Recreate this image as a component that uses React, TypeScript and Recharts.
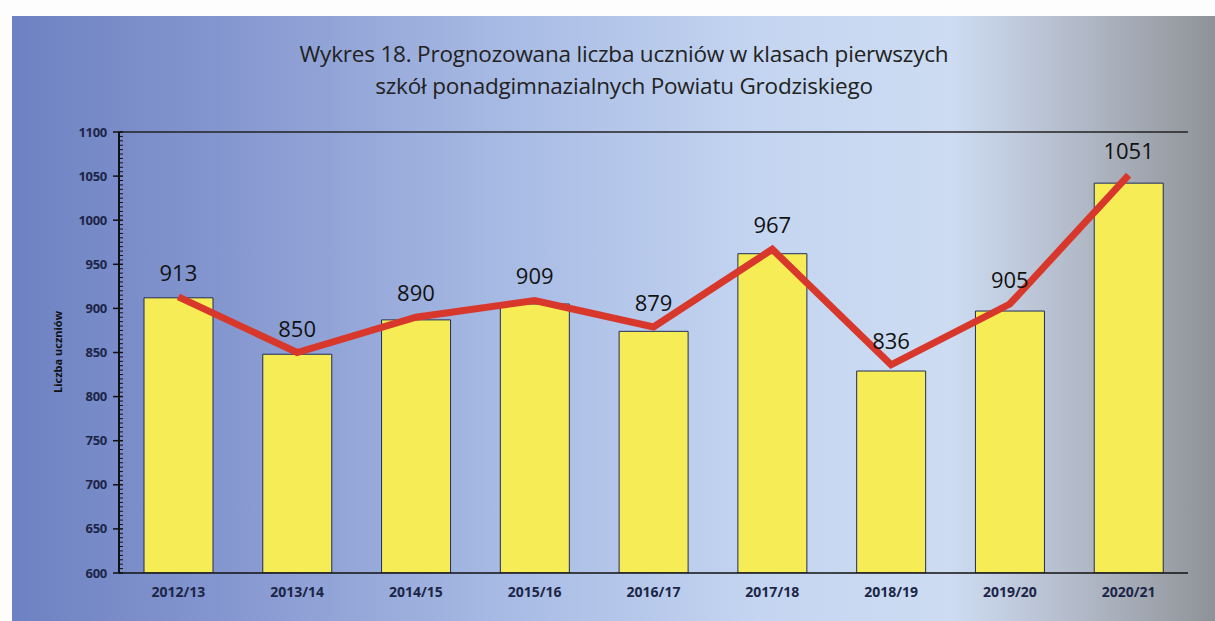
import React from 'react'
import {
  ComposedChart,
  Bar,
  Line,
  XAxis,
  YAxis,
  CartesianGrid,
  LabelList,
  ReferenceLine,
} from 'recharts'

// Chart data
const YEARS = ['2012/13', '2013/14', '2014/15', '2015/16', '2016/17', '2017/18', '2018/19', '2019/20', '2020/21']
const BAR_VALUES = [912, 848, 887, 905, 874, 962, 829, 897, 1042]
const LINE_VALUES = [913, 850, 890, 909, 879, 967, 836, 905, 1051]
const MAJOR_TICKS = [600, 650, 700, 750, 800, 850, 900, 950, 1000, 1050, 1100]

const data = YEARS.map((year, i) => ({
  year,
  bar: BAR_VALUES[i],
  line: LINE_VALUES[i],
}))

// minor tick marks every 5 units
const ALL_TICKS: number[] = []
for (let v = 600; v <= 1100; v += 5) ALL_TICKS.push(v)

const W = 1215
const H = 621

const AXIS_TEXT = '#1c2547'

function YTick(props: any) {
  const { x, y, payload } = props
  const v = payload.value
  const major = v % 50 === 0
  if (!major) {
    return <line x1={x} x2={x + 4} y1={y} y2={y} stroke="#111" strokeWidth={1} />
  }
  return (
    <g>
      <line x1={x - 6} x2={x + 4} y1={y} y2={y} stroke="#111" strokeWidth={1.5} />
      <text
        x={x - 12}
        y={y}
        dy={4.5}
        textAnchor="end"
        fontSize={13}
        fontWeight="bold"
        fill={AXIS_TEXT}
        fontFamily="'Open Sans', sans-serif"
        letterSpacing={-0.3}
      >
        {v}
      </text>
    </g>
  )
}

export default function App() {
  return (
    <div
      style={{
        position: 'fixed',
        left: 0,
        top: 0,
        width: W,
        height: H,
        background: '#fdfdfd',
        overflow: 'hidden',
      }}
    >
      <div
        style={{
          position: 'absolute',
          left: 12,
          top: 16,
          width: W - 12,
          height: H - 16,
          background:
            'linear-gradient(90deg, #6e82c3 0%, #8597cf 18%, #a6b9e3 40%, #c4d5f1 62%, #cddcf2 78%, #b4bccb 88%, #8f9398 100%)',
        }}
      />
      <div
        style={{
          position: 'absolute',
          left: 0,
          top: 38,
          width: 1248,
          textAlign: 'center',
          fontFamily: "'Open Sans', sans-serif",
          fontSize: 22.5,
          lineHeight: '32px',
          color: '#222',
          letterSpacing: -0.2,
        }}
      >
        Wykres 18. Prognozowana liczba uczniów w klasach pierwszych
        <br />
        szkół ponadgimnazialnych Powiatu Grodziskiego
      </div>
      <div
        style={{
          position: 'absolute',
          left: 57,
          top: 352,
          transform: 'translate(-50%, -50%) rotate(-90deg)',
          fontFamily: "'Open Sans', sans-serif",
          fontSize: 11,
          fontWeight: 'bold',
          color: '#111',
          whiteSpace: 'nowrap',
        }}
      >
        Liczba uczniów
      </div>
      <div style={{ position: 'absolute', left: 0, top: 0 }}>
        <ComposedChart
          width={W}
          height={H}
          data={data}
          margin={{ top: 132, right: 27, bottom: 10, left: 0 }}
        >
          <CartesianGrid
            vertical={false}
            horizontalValues={MAJOR_TICKS}
            stroke="#3c4354"
            strokeWidth={1.3}
          />
          <XAxis
            dataKey="year"
            height={38}
            tickLine={false}
            axisLine={{ stroke: '#111', strokeWidth: 1.5 }}
            tick={{ fontSize: 14, fontWeight: 'bold', fill: AXIS_TEXT, fontFamily: "'Open Sans', sans-serif" }}
            tickMargin={8}
            interval={0}
          />
          <YAxis
            yAxisId="left"
            domain={[600, 1100]}
            ticks={ALL_TICKS}
            interval={0}
            tickLine={false}
            tickSize={0}
            tickMargin={0}
            width={119}
            axisLine={{ stroke: '#111', strokeWidth: 2 }}
            tick={<YTick />}
            allowDataOverflow
          />
          <YAxis
            yAxisId="right"
            orientation="right"
            domain={[600, 1100]}
            tick={false}
            tickLine={false}
            width={0}
            axisLine={{ stroke: '#222', strokeWidth: 1.5 }}
          />
          <ReferenceLine yAxisId="left" y={1100} stroke="#222" strokeWidth={1.5} />
          <Bar
            yAxisId="left"
            dataKey="bar"
            barSize={69}
            fill="#f6ec55"
            stroke="#1f2b5c"
            strokeWidth={1}
            isAnimationActive={false}
          />
          <Line
            yAxisId="left"
            type="linear"
            dataKey="line"
            stroke="#d8382c"
            strokeWidth={7}
            dot={false}
            isAnimationActive={false}
          >
            <LabelList
              dataKey="line"
              position="top"
              offset={16}
              fontSize={22}
              fill="#111"
              fontFamily="'Open Sans', sans-serif"
            />
          </Line>
        </ComposedChart>
      </div>
    </div>
  )
}
